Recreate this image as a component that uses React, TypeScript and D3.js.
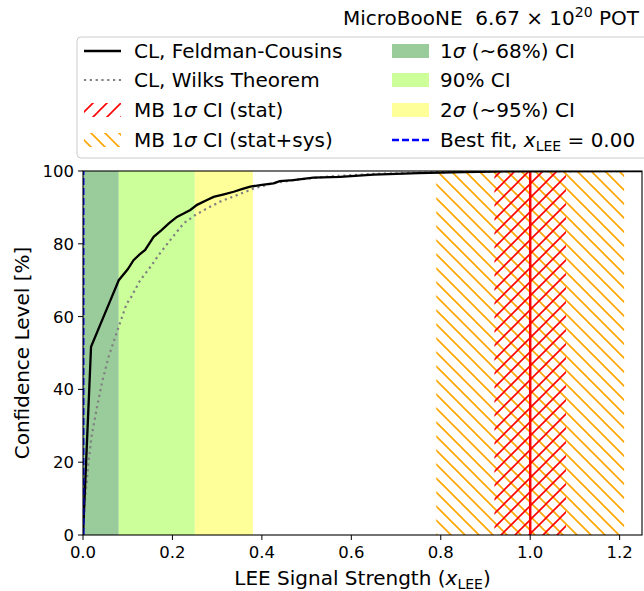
import React, { useEffect, useRef } from "react";
import * as d3 from "d3";

const fcX = [0, 0.018, 0.04, 0.061, 0.08, 0.1, 0.113, 0.126, 0.139, 0.158, 0.175, 0.192, 0.21, 0.225, 0.24, 0.255, 0.275, 0.292, 0.315, 0.337, 0.355, 0.374, 0.4, 0.426, 0.44, 0.47, 0.515, 0.575, 0.65, 0.75, 0.85, 0.95, 1.25];
const fcY = [0, 51.7, 58.2, 64.4, 70, 73, 75.5, 77, 78.3, 81.9, 83.7, 85.6, 87.4, 88.3, 89.3, 90.7, 91.9, 92.9, 93.6, 94.3, 95, 95.7, 96.2, 96.6, 97.2, 97.5, 98.2, 98.4, 99, 99.4, 99.7, 99.9, 100];

const wilksX = [0, 0.0036, 0.008, 0.012, 0.019, 0.03, 0.042, 0.057, 0.077, 0.0975, 0.106, 0.128, 0.151, 0.169, 0.195, 0.225, 0.251, 0.277, 0.307, 0.345, 0.382, 0.42, 0.47, 0.55, 0.65, 0.8, 1.0, 1.25];
const wilksY = [0, 8.7, 14, 19.7, 27, 34.3, 41.6, 48.9, 56.2, 63.5, 65, 70, 73.7, 76.9, 81, 85.6, 87.9, 89.7, 91.6, 93.4, 95.2, 96.5, 97.5, 98.5, 99.2, 99.7, 99.95, 100];

// confidence interval bands [start, end]
const band1Sigma = [0, 0.08];
const band90 = [0.08, 0.25];
const band2Sigma = [0.25, 0.38];
const mbStat = [0.92, 1.08];
const mbStatSys = [0.79, 1.21];
const mbCentral = 1.0;
const bestFit = 0.0;

const xTicks = [0, 0.2, 0.4, 0.6, 0.8, 1.0, 1.2];
const yTicks = [0, 20, 40, 60, 80, 100];

const W = 644, H = 591;
const M = { left: 83, right: 642, top: 171, bottom: 535 };
const FONT = "DejaVu Sans, sans-serif";
const LFS = 20;

export default function App() {
  const ref = useRef<SVGSVGElement>(null);
  useEffect(() => {
    const svg = d3.select(ref.current);
    svg.selectAll("*").remove();
    const x = d3.scaleLinear().domain([0, 1.25]).range([M.left, M.right]);
    const y = d3.scaleLinear().domain([0, 100]).range([M.bottom, M.top]);

    const defs = svg.append("defs");
    const pOr = defs.append("pattern").attr("id", "hOrange").attr("patternUnits", "userSpaceOnUse")
      .attr("width", 14).attr("height", 14);
    pOr.append("path").attr("d", "M-1,13 l2,2 M0,0 l14,14 M13,-1 l2,2")
      .attr("stroke", "orange").attr("stroke-width", 1.6).attr("fill", "none");
    const pRed = defs.append("pattern").attr("id", "hRed").attr("patternUnits", "userSpaceOnUse")
      .attr("width", 14).attr("height", 14);
    pRed.append("path").attr("d", "M-1,1 l2,-2 M0,14 l14,-14 M13,15 l2,-2")
      .attr("stroke", "red").attr("stroke-width", 1.6).attr("fill", "none");
    defs.append("clipPath").attr("id", "plotClip").append("rect")
      .attr("x", M.left).attr("y", M.top).attr("width", M.right - M.left).attr("height", M.bottom - M.top);

    svg.append("rect").attr("width", W).attr("height", H).attr("fill", "white");

    const g = svg.append("g").attr("clip-path", "url(#plotClip)");
    const bands: [number[], string][] = [[band1Sigma, "#9acb9a"], [band90, "#ccff99"], [band2Sigma, "#ffff99"]];
    bands.forEach(([b, c]) => {
      g.append("rect").attr("x", x(b[0])).attr("width", x(b[1]) - x(b[0]))
        .attr("y", y(100)).attr("height", y(0) - y(100)).attr("fill", c);
    });
    g.append("rect").attr("x", x(mbStatSys[0])).attr("width", x(mbStatSys[1]) - x(mbStatSys[0]))
      .attr("y", y(100)).attr("height", y(0) - y(100)).attr("fill", "url(#hOrange)");
    g.append("rect").attr("x", x(mbStat[0])).attr("width", x(mbStat[1]) - x(mbStat[0]))
      .attr("y", y(100)).attr("height", y(0) - y(100)).attr("fill", "url(#hRed)");
    g.append("line").attr("x1", x(mbCentral)).attr("x2", x(mbCentral)).attr("y1", y(0)).attr("y2", y(100))
      .attr("stroke", "red").attr("stroke-width", 2.5);

    const line = d3.line<[number, number]>().x(d => x(d[0])).y(d => y(d[1]));
    g.append("path").attr("d", line(wilksX.map((v, i) => [v, wilksY[i]]) as [number, number][]))
      .attr("fill", "none").attr("stroke", "gray").attr("stroke-width", 2.2).attr("stroke-dasharray", "2.2,3.6");
    g.append("path").attr("d", line(fcX.map((v, i) => [v, fcY[i]]) as [number, number][]))
      .attr("fill", "none").attr("stroke", "black").attr("stroke-width", 2.3);
    g.append("line").attr("x1", x(bestFit)).attr("x2", x(bestFit)).attr("y1", y(0)).attr("y2", y(100))
      .attr("stroke", "blue").attr("stroke-width", 3).attr("stroke-dasharray", "7,3");

    // frame
    svg.append("rect").attr("x", M.left).attr("y", M.top).attr("width", M.right - M.left).attr("height", M.bottom - M.top)
      .attr("fill", "none").attr("stroke", "black").attr("stroke-width", 1.1);

    const ax = svg.append("g").attr("font-family", FONT).attr("font-size", 16.5);
    xTicks.forEach(t => {
      ax.append("line").attr("x1", x(t)).attr("x2", x(t)).attr("y1", M.bottom).attr("y2", M.bottom + 5).attr("stroke", "black");
      ax.append("text").attr("x", x(t)).attr("y", M.bottom + 23).attr("text-anchor", "middle").text(d3.format(".1f")(t));
    });
    yTicks.forEach(t => {
      ax.append("line").attr("x1", M.left - 5).attr("x2", M.left).attr("y1", y(t)).attr("y2", y(t)).attr("stroke", "black");
      ax.append("text").attr("x", M.left - 9).attr("y", y(t) + 6).attr("text-anchor", "end").text(String(t));
    });

    const xl = ax.append("text").attr("x", (M.left + M.right) / 2).attr("y", 585).attr("text-anchor", "middle").attr("font-size", LFS);
    xl.append("tspan").text("LEE Signal Strength (");
    xl.append("tspan").attr("font-style", "italic").text("x");
    xl.append("tspan").attr("font-size", 14).attr("dy", 4).text("LEE");
    xl.append("tspan").attr("dy", -4).text(")");

    ax.append("text").attr("transform", `translate(29,${(M.top + M.bottom) / 2}) rotate(-90)`)
      .attr("text-anchor", "middle").attr("font-size", LFS).text("Confidence Level [%]");

    const tt = ax.append("text").attr("x", 639).attr("y", 25).attr("text-anchor", "end").attr("font-size", LFS);
    tt.append("tspan").text("MicroBooNE\u00a0\u00a06.67 × 10");
    tt.append("tspan").attr("font-size", 14).attr("dy", -8).text("20");
    tt.append("tspan").attr("dy", 8).text(" POT");

    // legend
    const lg = svg.append("g").attr("font-family", FONT).attr("font-size", LFS);
    lg.append("rect").attr("x", 77).attr("y", 37).attr("width", 580).attr("height", 121).attr("rx", 4)
      .attr("fill", "white").attr("fill-opacity", 0.8).attr("stroke", "#cccccc");
    const rows = [51, 80, 110, 140];
    const c1h = 84, c1t = 134, c2h = 392, c2t = 440, hw = 37;
    lg.append("line").attr("x1", c1h).attr("x2", c1h + hw).attr("y1", rows[0]).attr("y2", rows[0]).attr("stroke", "black").attr("stroke-width", 2.3);
    lg.append("line").attr("x1", c1h).attr("x2", c1h + hw).attr("y1", rows[1]).attr("y2", rows[1]).attr("stroke", "gray").attr("stroke-width", 2.2).attr("stroke-dasharray", "2.2,3.6");
    lg.append("rect").attr("x", c1h).attr("y", rows[2] - 7).attr("width", hw).attr("height", 14).attr("fill", "url(#hRed)");
    lg.append("rect").attr("x", c1h).attr("y", rows[3] - 7).attr("width", hw).attr("height", 14).attr("fill", "url(#hOrange)");
    lg.append("rect").attr("x", c2h).attr("y", rows[0] - 7).attr("width", hw).attr("height", 14).attr("fill", "#9acb9a");
    lg.append("rect").attr("x", c2h).attr("y", rows[1] - 7).attr("width", hw).attr("height", 14).attr("fill", "#ccff99");
    lg.append("rect").attr("x", c2h).attr("y", rows[2] - 7).attr("width", hw).attr("height", 14).attr("fill", "#ffff99");
    lg.append("line").attr("x1", c2h).attr("x2", c2h + hw).attr("y1", rows[3]).attr("y2", rows[3]).attr("stroke", "blue").attr("stroke-width", 2.4).attr("stroke-dasharray", "7,3");

    const txt = (xx: number, yy: number) => lg.append("text").attr("x", xx).attr("y", yy + 7);
    txt(c1t, rows[0]).text("CL, Feldman-Cousins");
    txt(c1t, rows[1]).text("CL, Wilks Theorem");
    const t3 = txt(c1t, rows[2]);
    t3.append("tspan").text("MB 1");
    t3.append("tspan").attr("font-style", "italic").text("σ");
    t3.append("tspan").text(" CI (stat)");
    const t4 = txt(c1t, rows[3]);
    t4.append("tspan").text("MB 1");
    t4.append("tspan").attr("font-style", "italic").text("σ");
    t4.append("tspan").text(" CI (stat+sys)");
    const t5 = txt(c2t, rows[0]);
    t5.append("tspan").text("1");
    t5.append("tspan").attr("font-style", "italic").text("σ");
    t5.append("tspan").text(" (~68%) CI");
    txt(c2t, rows[1]).text("90% CI");
    const t7 = txt(c2t, rows[2]);
    t7.append("tspan").text("2");
    t7.append("tspan").attr("font-style", "italic").text("σ");
    t7.append("tspan").text(" (~95%) CI");
    const t8 = txt(c2t, rows[3]);
    t8.append("tspan").text("Best fit, ");
    t8.append("tspan").attr("font-style", "italic").text("x");
    t8.append("tspan").attr("font-size", 14).attr("dy", 4).text("LEE");
    t8.append("tspan").attr("dy", -4).text(" = 0.00");
  }, []);
  return (
    <svg ref={ref} width={W} height={H} style={{ position: "absolute", left: 0, top: 0 }} />
  );
}
